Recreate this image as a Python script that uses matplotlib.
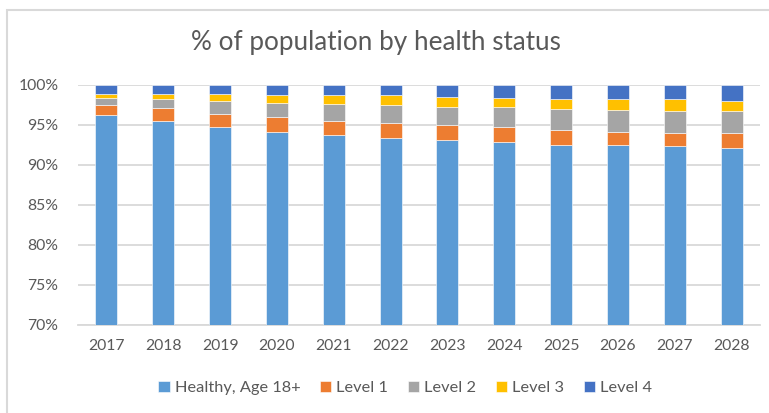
import numpy as np
import matplotlib
matplotlib.use("Agg")
import matplotlib.pyplot as plt
from matplotlib.patches import Rectangle

plt.rcParams['font.family'] = ['Lato', 'DejaVu Sans']

# % of population per health level, by year
years = ['2017', '2018', '2019', '2020', '2021', '2022',
         '2023', '2024', '2025', '2026', '2027', '2028']
healthy = [96.2, 95.5, 94.8, 94.1, 93.8, 93.4, 93.1, 92.9, 92.5, 92.5, 92.4, 92.1]
level1 = [1.3, 1.65, 1.6, 1.9, 1.75, 1.9, 1.9, 1.8, 1.9, 1.65, 1.65, 1.9]
level2 = [0.9, 1.1, 1.6, 1.75, 2.1, 2.25, 2.25, 2.6, 2.6, 2.75, 2.75, 2.75]
level3 = [0.45, 0.65, 0.9, 1.05, 1.15, 1.15, 1.25, 1.1, 1.25, 1.4, 1.4, 1.25]
level4 = [1.15, 1.1, 1.1, 1.2, 1.2, 1.3, 1.5, 1.6, 1.75, 1.7, 1.8, 2.0]

series = [
    ("Healthy, Age 18+", healthy, "#5B9BD5"),
    ("Level 1", level1, "#ED7D31"),
    ("Level 2", level2, "#A5A5A5"),
    ("Level 3", level3, "#FFC000"),
    ("Level 4", level4, "#4472C4"),
]

text_col = "#595959"
grid_col = "#D9D9D9"

fig = plt.figure(figsize=(7.69, 4.13), dpi=100)
ax = fig.add_axes([0.1014, 0.2131, 0.8869, 0.5811])

x = np.arange(len(years))
bottom = np.zeros(len(years))
for name, vals, col in series:
    vals = np.array(vals)
    ax.bar(x, vals, bottom=bottom, width=0.385, color=col, label=name,
           edgecolor="white", linewidth=0.4, zorder=3)
    bottom += vals

ax.set_ylim(70, 100)
ax.set_xlim(-0.5, len(years) - 0.5)
ax.set_yticks(np.arange(70, 101, 5))
ax.set_yticklabels([f"{v}%" for v in range(70, 101, 5)])
ax.set_xticks(x)
ax.set_xticklabels(years)
ax.tick_params(axis='both', length=0, labelsize=11.3, labelcolor=text_col)
ax.tick_params(axis='y', pad=14)
ax.tick_params(axis='x', pad=10)

ax.grid(axis='y', color=grid_col, linewidth=1.3, zorder=0)
for side in ['top', 'right', 'left']:
    ax.spines[side].set_visible(False)
ax.spines['bottom'].set_color(grid_col)
ax.spines['bottom'].set_linewidth(1.3)

fig.text(0.489, 0.896, "% of population by health status", ha='center', va='center',
         fontsize=18.8, color=text_col)

leg = fig.legend(loc='center', bbox_to_anchor=(0.527, 0.06), ncol=5, frameon=False,
                 fontsize=11.8, handlelength=0.7, handleheight=0.7, handletextpad=0.3,
                 columnspacing=1.2)
for t in leg.get_texts():
    t.set_color(text_col)

# outer chart border
fig.patches.append(Rectangle((7 / 769, -0.1), 1.1, 0.1 + 1 - 10 / 413,
                             transform=fig.transFigure, fill=False,
                             edgecolor=grid_col, linewidth=1.5))

fig.savefig("out.png", dpi=100)
